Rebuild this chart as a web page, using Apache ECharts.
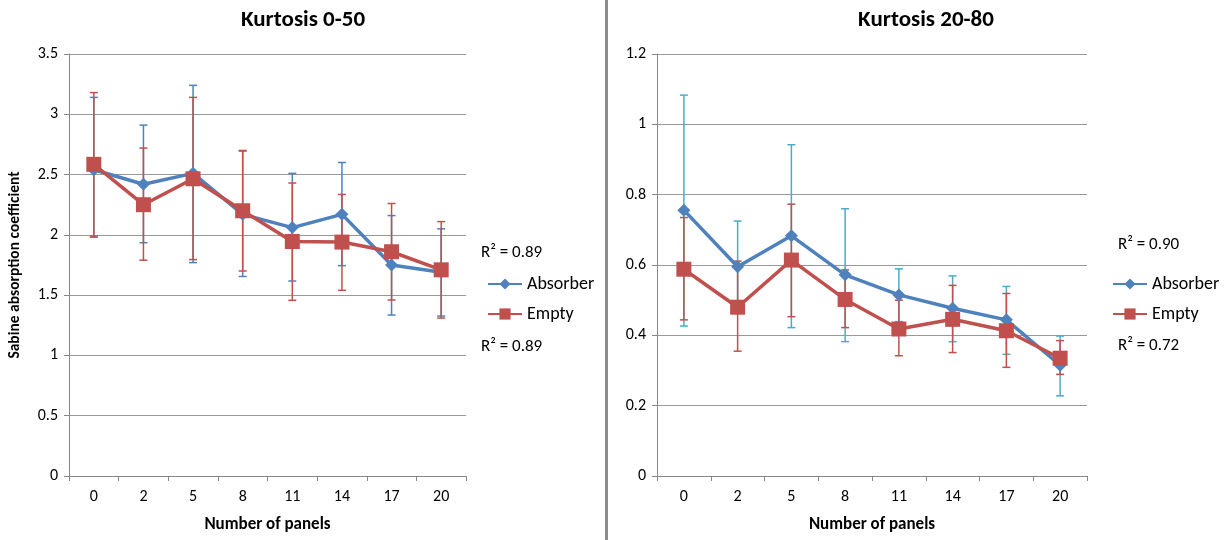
<!DOCTYPE html>
<html>
<head>
<meta charset="utf-8">
<script src="https://cdn.jsdelivr.net/npm/echarts@6/dist/echarts.min.js"></script>
<style>
html,body{margin:0;padding:0;background:#fff;}
#c{width:1232px;height:540px;}
</style>
</head>
<body>
<div id="c"></div>
<script>
const categories = ['0','2','5','8','11','14','17','20'];

// Left chart: Kurtosis 0-50
const absorberL    = [2.54, 2.42, 2.51, 2.17, 2.06, 2.17, 1.75, 1.69];
const absorberLHi  = [3.14, 2.91, 3.24, 2.695, 2.51, 2.60, 2.16, 2.05];
const absorberLLo  = [1.98, 1.935, 1.77, 1.655, 1.617, 1.745, 1.335, 1.327];
const emptyL       = [2.585, 2.25, 2.465, 2.20, 1.945, 1.94, 1.86, 1.71];
const emptyLHi     = [3.18, 2.72, 3.14, 2.70, 2.43, 2.335, 2.26, 2.11];
const emptyLLo     = [1.99, 1.79, 1.795, 1.70, 1.457, 1.54, 1.46, 1.31];

// Right chart: Kurtosis 20-80
const absorberR    = [0.756, 0.595, 0.683, 0.572, 0.515, 0.477, 0.444, 0.315];
const absorberRHi  = [1.083, 0.725, 0.942, 0.760, 0.589, 0.569, 0.539, 0.398];
const absorberRLo  = [0.4265, 0.47, 0.422, 0.382, 0.439, 0.382, 0.346, 0.228];
const emptyR       = [0.588, 0.48, 0.614, 0.502, 0.418, 0.4455, 0.413, 0.335];
const emptyRHi     = [0.735, 0.611, 0.773, 0.586, 0.50, 0.542, 0.519, 0.385];
const emptyRLo     = [0.444, 0.355, 0.453, 0.422, 0.342, 0.351, 0.309, 0.289];

const titles = ['Kurtosis 0-50', 'Kurtosis 20-80'];
const r2Left = ['R² = 0.89', 'R² = 0.89'];
const r2Right = ['R² = 0.90', 'R² = 0.72'];

const FONT = 'Carlito, Calibri, Lato, "Open Sans", sans-serif';
const BLUE = '#4F81BD', RED = '#C0504D', CYAN = '#4BACC6';

function errData(lo, hi) { return categories.map((c, i) => [i, lo[i], hi[i]]); }
function errSeries(name, xi, yi, lo, hi, color) {
  return {
    type: 'custom', name: name + ' err', xAxisIndex: xi, yAxisIndex: yi, z: 1,
    silent: true,
    encode: { x: 0, y: [1, 2] },
    data: errData(lo, hi),
    renderItem: function (params, api) {
      const x = api.value(0);
      const p1 = api.coord([x, api.value(1)]);
      const p2 = api.coord([x, api.value(2)]);
      const w = 4;
      const st = { stroke: color, lineWidth: 1.5 };
      return { type: 'group', children: [
        { type: 'line', shape: { x1: p1[0], y1: p1[1], x2: p2[0], y2: p2[1] }, style: st },
        { type: 'line', shape: { x1: p1[0] - w, y1: p1[1], x2: p1[0] + w, y2: p1[1] }, style: st },
        { type: 'line', shape: { x1: p2[0] - w, y1: p2[1], x2: p2[0] + w, y2: p2[1] }, style: st }
      ]};
    }
  };
}
function lineSeries(name, xi, yi, data, color, symbol, size) {
  return {
    type: 'line', name: name, xAxisIndex: xi, yAxisIndex: yi, z: 3,
    data: data, symbol: symbol, symbolSize: size, showAllSymbol: true,
    lineStyle: { color: color, width: 3.5 },
    itemStyle: { color: color },
    emphasis: { disabled: true }
  };
}
function xAxis(gi) {
  return {
    type: 'category', gridIndex: gi, data: categories, boundaryGap: true,
    name: 'Number of panels', nameLocation: 'middle', nameGap: 40,
    nameTextStyle: { fontFamily: FONT, fontSize: 17, fontWeight: 'bold', color: '#000' },
    axisLine: { lineStyle: { color: '#888', width: 1 } },
    axisTick: { show: true, length: 5, lineStyle: { color: '#888' } },
    axisLabel: { fontFamily: FONT, fontSize: 16, color: '#000', margin: 13 }
  };
}
function yAxis(gi, max, interval, name) {
  return {
    type: 'value', gridIndex: gi, min: 0, max: max, interval: interval,
    name: name, nameLocation: 'middle', nameGap: 46,
    nameTextStyle: { fontFamily: FONT, fontSize: 15.5, fontWeight: 'bold', color: '#000' },
    axisLine: { show: true, lineStyle: { color: '#888', width: 1 } },
    axisTick: { show: true, length: 5, lineStyle: { color: '#888' } },
    splitLine: { lineStyle: { color: '#999', width: 1 } },
    axisLabel: { fontFamily: FONT, fontSize: 16, color: '#000', margin: 11 }
  };
}

const chart = echarts.init(document.getElementById('c'), null, { renderer: 'canvas' });
chart.setOption({
  animation: false,
  backgroundColor: '#fff',
  title: [
    { text: titles[0], left: 298, top: 4, textAlign: 'center',
      textStyle: { fontFamily: FONT, fontSize: 23, fontWeight: 'bold', color: '#000' } },
    { text: titles[1], left: 921, top: 4, textAlign: 'center',
      textStyle: { fontFamily: FONT, fontSize: 23, fontWeight: 'bold', color: '#000' } }
  ],
  grid: [
    { left: 69, right: 766, top: 54, bottom: 64 },
    { left: 657, right: 145, top: 54, bottom: 64 }
  ],
  xAxis: [xAxis(0), xAxis(1)],
  yAxis: [yAxis(0, 3.5, 0.5, 'Sabine absorption coefficient'), yAxis(1, 1.2, 0.2, '')],
  legend: [
    { orient: 'vertical', left: 482, top: 270, itemGap: 12, itemWidth: 34, itemHeight: 14,
      data: ['Absorber', 'Empty'], selectedMode: false,
      textStyle: { fontFamily: FONT, fontSize: 18, color: '#000' } },
    { orient: 'vertical', left: 1107, top: 270, itemGap: 12, itemWidth: 34, itemHeight: 14,
      data: ['Absorber', 'Empty'], selectedMode: false,
      textStyle: { fontFamily: FONT, fontSize: 18, color: '#000' } }
  ],
  graphic: [
    { type: 'rect', shape: { x: 605, y: 0, width: 3, height: 540 }, style: { fill: '#8c8c8c' } },
    { type: 'text', x: 481, y: 244, style: { text: r2Left[0], font: '17px ' + FONT, fill: '#000' } },
    { type: 'text', x: 481, y: 338, style: { text: r2Left[1], font: '17px ' + FONT, fill: '#000' } },
    { type: 'text', x: 1118, y: 236, style: { text: r2Right[0], font: '17px ' + FONT, fill: '#000' } },
    { type: 'text', x: 1118, y: 337, style: { text: r2Right[1], font: '17px ' + FONT, fill: '#000' } }
  ],
  series: [
    errSeries('Absorber', 0, 0, absorberLLo, absorberLHi, BLUE),
    errSeries('Empty', 0, 0, emptyLLo, emptyLHi, RED),
    lineSeries('Absorber', 0, 0, absorberL, BLUE, 'diamond', 13),
    lineSeries('Empty', 0, 0, emptyL, RED, 'rect', 15),
    errSeries('Absorber', 1, 1, absorberRLo, absorberRHi, CYAN),
    errSeries('Empty', 1, 1, emptyRLo, emptyRHi, RED),
    lineSeries('Absorber', 1, 1, absorberR, BLUE, 'diamond', 13),
    lineSeries('Empty', 1, 1, emptyR, RED, 'rect', 15)
  ]
});
</script>
</body>
</html>
